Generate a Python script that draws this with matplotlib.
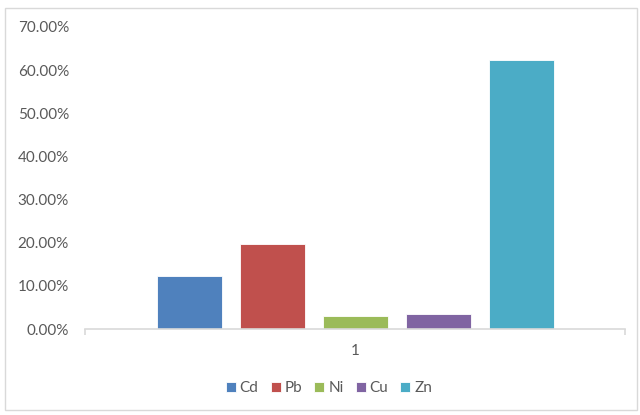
import matplotlib.pyplot as plt
from matplotlib.patches import Rectangle
from matplotlib.ticker import PercentFormatter
import numpy as np

metals = ['Cd', 'Pb', 'Ni', 'Cu', 'Zn']
shares = [0.123, 0.196, 0.031, 0.034, 0.623]
colors = ['#4F81BD', '#C0504D', '#9BBB59', '#8064A2', '#4BACC6']
category = '1'
yticks = np.arange(0, 0.71, 0.1)

plt.rcParams['font.family'] = ['Lato', 'DejaVu Sans']

fig = plt.figure(figsize=(6.4, 4.15), dpi=100)
ax = fig.add_axes([85/640, 1-329/415, 540/640, 302/415])

# bars in one category, Excel-like spacing
width = 65/540
step = 83/540
for i, (m, v, c) in enumerate(zip(metals, shares, colors)):
    ax.bar((i-2)*step, v, width=width, color=c, edgecolor='white',
           linewidth=0.6, label=m)

ax.set_xlim(-0.5, 0.5)
ax.set_ylim(0, 0.7)
ax.set_yticks(yticks)
ax.yaxis.set_major_formatter(PercentFormatter(1.0, decimals=2))
ax.set_xticks([0])
ax.set_xticklabels([category])
ax.set_xticks([-0.5, 0.5], minor=True)

for s in ['top', 'right', 'left']:
    ax.spines[s].set_visible(False)
ax.spines['bottom'].set_color('#d9d9d9')
ax.spines['bottom'].set_linewidth(1.2)
ax.tick_params(axis='y', length=0, labelsize=11, labelcolor='#595959', pad=11.5)
ax.tick_params(axis='x', which='major', length=0, labelsize=11,
               labelcolor='#595959', pad=11)
ax.tick_params(axis='x', which='minor', length=4, color='#d9d9d9', width=1.2)

fig.legend(loc='center', bbox_to_anchor=(329/640, 1-388/415), ncol=5,
           frameon=False, fontsize=11, handlelength=0.65, handleheight=0.65,
           handletextpad=0.25, columnspacing=0.8, labelcolor='#595959')

fig.patches.append(Rectangle((5/640, 1-410/415), 632/640, 402/415,
                             transform=fig.transFigure, fill=False,
                             edgecolor='#d9d9d9', linewidth=1))

fig.savefig('out.png', dpi=100)
